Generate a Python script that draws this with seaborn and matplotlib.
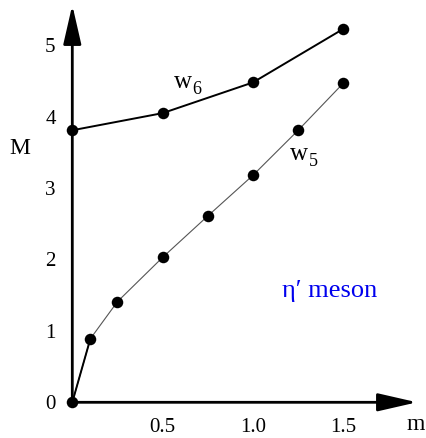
import matplotlib
matplotlib.use("Agg")
import matplotlib.pyplot as plt
import seaborn as sns

# Data
w6_m = [0.0, 0.5, 1.0, 1.5]
w6_M = [3.81, 4.05, 4.48, 5.23]
w5_m = [0.0, 0.1, 0.25, 0.5, 0.75, 1.0, 1.25, 1.5]
w5_M = [0.0, 0.89, 1.41, 2.03, 2.61, 3.18, 3.81, 4.47]
xtick_vals = [0.5, 1.0, 1.5]
xtick_labels = ["0.5", "1.0", "1.5"]
ytick_vals = [0, 1, 2, 3, 4, 5]
ytick_labels = ["0", "1", "2", "3", "4", "5"]

sns.set_theme(style="white")
plt.rcParams["font.family"] = ["Liberation Serif", "DejaVu Serif"]

fig = plt.figure(figsize=(4.26, 4.38), dpi=100)
W, H = 426.0, 438.0
x0, y0 = 72.3, 402.3      # origin in pixels
x1, y1 = 417.0, 5.0       # arrow tips
ax = fig.add_axes([x0 / W, (H - y0) / H, (x1 - x0) / W, (y0 - y1) / H])
ax.set_xlim(0, (x1 - x0) / 180.7)
ax.set_ylim(0, (y0 - y1) / 71.4)

# w5 (thin gray) with thicker first segment
sns.lineplot(x=w5_m, y=w5_M, ax=ax, color="#555555", linewidth=0.8,
             marker="o", markersize=8.3, markeredgewidth=0,
             markerfacecolor="black", sort=False)
sns.lineplot(x=w5_m[:2], y=w5_M[:2], ax=ax, color="black", linewidth=1.4,
             sort=False)
# w6
sns.lineplot(x=w6_m, y=w6_M, ax=ax, color="black", linewidth=1.4,
             marker="o", markersize=8.3, markeredgewidth=0,
             markerfacecolor="black", sort=False)
for ln in ax.lines:
    ln.set_clip_on(False)
    ln.set_zorder(5)

for s in ax.spines.values():
    s.set_visible(False)

arrow = dict(arrowstyle="-|>,head_length=2.4,head_width=0.55", lw=2.0,
             color="black", mutation_scale=10, shrinkA=0, shrinkB=0)
ax.annotate("", xy=(1, 0), xytext=(0, 0), xycoords="axes fraction",
            textcoords="axes fraction", arrowprops=arrow, zorder=3)
ax.annotate("", xy=(0, 1), xytext=(0, 0), xycoords="axes fraction",
            textcoords="axes fraction", arrowprops=arrow, zorder=3)

ax.set_xticks(xtick_vals)
ax.set_xticklabels(xtick_labels)
ax.set_yticks(ytick_vals)
ax.set_yticklabels(ytick_labels)
ax.tick_params(axis="both", length=0, labelsize=15, colors="black")
ax.tick_params(axis="y", pad=12)
ax.tick_params(axis="x", pad=11)
ax.grid(False)

ax.set_ylabel("M", rotation=0, fontsize=17, color="black", ha="center", va="center")
ax.yaxis.set_label_coords(-0.152, 0.640)
ax.set_xlabel("m", fontsize=17, color="black", ha="center", va="center")
ax.xaxis.set_label_coords((416 - x0) / (x1 - x0), -(424 - y0) / (y0 - y1))

# curve labels: "w" with a subscript digit
for (lx, ly, sub) in [(0.613, 4.40, "6"), (1.257, 3.39, "5")]:
    ax.text(lx, ly, "w", fontsize=18, ha="center", va="baseline", color="black")
    ax.annotate(sub, xy=(lx, ly), xytext=(10, -4), textcoords="offset points",
                fontsize=13, ha="center", va="baseline", color="black")

ax.text(1.425, 1.56, "η′ meson", fontsize=19, ha="center", va="center",
        color="#0000ee")

fig.savefig("out.png", dpi=100)
